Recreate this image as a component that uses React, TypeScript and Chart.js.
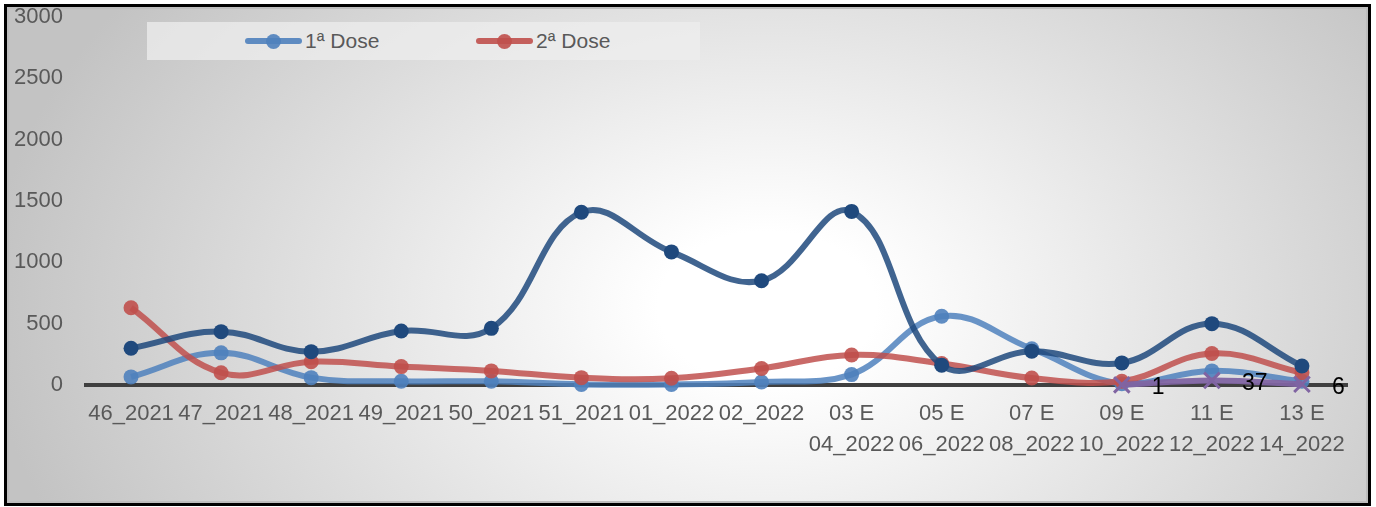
import React, { useEffect, useRef } from "react";
import { Chart, registerables } from "chart.js";

Chart.register(...registerables);

const categories: (string | string[])[] = [
  "46_2021", "47_2021", "48_2021", "49_2021", "50_2021", "51_2021", "01_2022", "02_2022",
  ["03 E", "04_2022"], ["05 E", "06_2022"], ["07 E", "08_2022"], ["09 E", "10_2022"],
  ["11 E", "12_2022"], ["13 E", "14_2022"],
];

const dose1 = [66, 262, 60, 30, 30, 5, 5, 25, 85, 560, 295, 10, 115, 30];
const dose2 = [630, 100, 190, 150, 115, 60, 55, 135, 245, 175, 57, 30, 257, 100];
const doseReforco = [300, 435, 272, 440, 462, 1408, 1085, 850, 1415, 162, 276, 180, 500, 155];
const doseAdicional = [null, null, null, null, null, null, null, null, null, null, null, 1, 37, 6];

const yTicks = [0, 500, 1000, 1500, 2000, 2500, 3000];

const FONT = "'Liberation Sans', Arial, sans-serif";

const labelPlugin = {
  id: "purpleLabels",
  afterDatasetsDraw(chart: any) {
    const ctx = chart.ctx;
    const meta = chart.getDatasetMeta(3);
    ctx.save();
    ctx.font = `23px ${FONT}`;
    ctx.fillStyle = "#000000";
    ctx.textAlign = "left";
    ctx.textBaseline = "middle";
    meta.data.forEach((pt: any, i: number) => {
      const v = doseAdicional[i];
      if (v === null || v === undefined) return;
      ctx.fillText(String(v), pt.x + 30, pt.y + 3);
    });
    ctx.restore();
  },
};

export default function App() {
  const ref = useRef<HTMLCanvasElement>(null);

  useEffect(() => {
    if (!ref.current) return;
    const chart = new Chart(ref.current, {
      type: "line",
      data: {
        labels: categories as any,
        datasets: [
          {
            label: "1ª Dose",
            data: dose1,
            borderColor: "rgba(79,129,189,0.85)",
            backgroundColor: "rgba(79,129,189,0.9)",
            pointBackgroundColor: "rgba(79,129,189,0.9)",
            pointBorderWidth: 0,
            pointRadius: 7.5,
            borderWidth: 6,
            tension: 0.4,
            clip: false as any,
            order: 4,
          },
          {
            label: "2ª Dose",
            data: dose2,
            borderColor: "rgba(192,80,77,0.85)",
            backgroundColor: "rgba(192,80,77,0.9)",
            pointBackgroundColor: "rgba(192,80,77,0.9)",
            pointBorderWidth: 0,
            pointRadius: 7.5,
            borderWidth: 6,
            tension: 0.4,
            clip: false as any,
            order: 3,
          },
          {
            label: "Dose de Reforço",
            data: doseReforco,
            borderColor: "rgba(31,73,125,0.85)",
            backgroundColor: "#1f497d",
            pointBackgroundColor: "#1f497d",
            pointBorderWidth: 0,
            pointRadius: 7.5,
            borderWidth: 6,
            tension: 0.4,
            clip: false as any,
            order: 2,
          },
          {
            label: "Dose Adicional",
            data: doseAdicional as any,
            borderColor: "rgba(128,100,162,0.95)",
            backgroundColor: "rgba(128,100,162,1)",
            pointBorderColor: "rgba(128,100,162,1)",
            pointStyle: "crossRot",
            pointRadius: 11,
            pointBorderWidth: 3,
            borderWidth: 6,
            tension: 0.4,
            clip: false as any,
            order: 1,
          },
        ],
      },
      options: {
        animation: false,
        responsive: false,
        maintainAspectRatio: false,
        layout: { padding: { left: 0, top: 17, right: 29, bottom: 0 } },
        plugins: {
          legend: { display: false },
          tooltip: { enabled: false },
        },
        scales: {
          x: {
            offset: true,
            grid: { display: false, drawTicks: false },
            border: { display: true, color: "#404040", width: 4 },
            ticks: {
              autoSkip: false,
              maxRotation: 0,
              minRotation: 0,
              padding: 14,
              color: "#595959",
              font: { family: FONT, size: 22, lineHeight: 1.4 },
            },
            afterFit: (s: any) => {
              s.height = 122;
            },
          },
          y: {
            min: 0,
            max: 3000,
            grid: { display: false, drawTicks: false },
            border: { display: false },
            afterBuildTicks: (s: any) => {
              s.ticks = yTicks.map((v) => ({ value: v }));
            },
            ticks: {
              padding: 23,
              color: "#595959",
              font: { family: FONT, size: 22 },
              callback: (v: any) => String(v),
            },
            afterFit: (s: any) => {
              s.width = 86;
              s.paddingTop = 0;
              s.paddingBottom = 0;
            },
          },
        },
      },
      plugins: [labelPlugin],
    });
    return () => chart.destroy();
  }, []);

  const legendItem = (left: number, color: string, text: string) => (
    <div style={{ position: "absolute", left, top: 0, height: 38 }}>
      <div
        style={{
          position: "absolute",
          left: 0,
          top: 16,
          width: 57,
          height: 6,
          borderRadius: 3,
          background: color,
        }}
      />
      <div
        style={{
          position: "absolute",
          left: 21,
          top: 11.5,
          width: 15,
          height: 15,
          borderRadius: "50%",
          background: color,
        }}
      />
      <div
        style={{
          position: "absolute",
          left: 60,
          top: 0,
          lineHeight: "38px",
          fontSize: 21,
          fontFamily: FONT,
          color: "#595959",
          whiteSpace: "nowrap",
        }}
      >
        {text}
      </div>
    </div>
  );

  return (
    <div style={{ position: "fixed", left: 0, top: 0, width: 1376, height: 507, background: "#ffffff" }}>
      <div
        style={{
          position: "absolute",
          left: 4,
          top: 4,
          width: 1367,
          height: 502,
          boxSizing: "border-box",
          border: "3px solid #000",
          boxShadow: "inset 0 0 0 2px #bdbdbd",
          background:
            "radial-gradient(ellipse 780px 540px at 760px 300px, #ffffff 0%, #ffffff 14%, #c3c3c3 100%)",
        }}
      />
      <div
        style={{
          position: "absolute",
          left: 147,
          top: 22,
          width: 553,
          height: 38,
          background: "rgba(238,238,238,0.75)",
        }}
      >
        {legendItem(98, "rgba(79,129,189,0.9)", "1ª Dose")}
        {legendItem(329, "rgba(192,80,77,0.9)", "2ª Dose")}
      </div>
      <canvas
        ref={ref}
        width={1376}
        height={507}
        style={{ position: "absolute", left: 0, top: 0, width: 1376, height: 507 }}
      />
    </div>
  );
}
